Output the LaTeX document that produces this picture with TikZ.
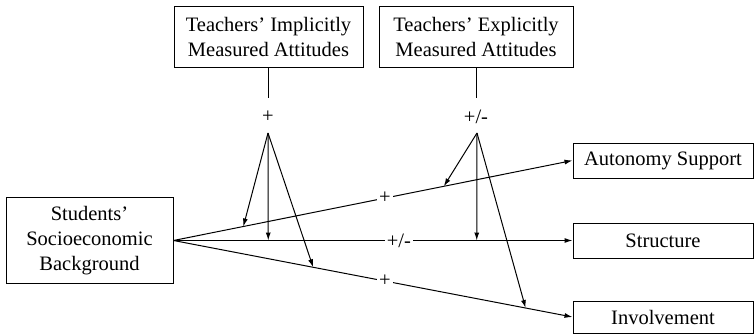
\documentclass[tikz,border=0pt]{standalone}
\usepackage{fontspec}
\setmainfont{Liberation Serif}
\usetikzlibrary{arrows.meta,calc}
\begin{document}
\begin{tikzpicture}[x=1pt,y=-1pt,
  txt/.style={font=\fontsize{20.5}{25}\selectfont},
  box/.style={txt,draw,line width=1pt,inner sep=0pt,align=center},
  lbl/.style={txt,fill=white,inner sep=2pt},
  ln/.style={line width=1pt},
  arr/.style={line width=1pt,-{Latex[length=8pt,width=5pt]}}]
\useasboundingbox (0,0) rectangle (755,335);
% boxes
\node[box,minimum width=189pt,minimum height=61pt] (I) at (268.5,36.5) {Teachers’ Implicitly\\Measured Attitudes};
\node[box,minimum width=194pt,minimum height=61pt] (E) at (476,36.5) {Teachers’ Explicitly\\Measured Attitudes};
\node[box,minimum width=167pt,minimum height=86pt] (S) at (89.5,240.5) {Students’\\Socioeconomic\\Background};
\node[box,minimum width=180pt,minimum height=35pt] (A) at (663,160.5) {Autonomy Support};
\node[box,minimum width=180pt,minimum height=35pt] (T) at (663,240.5) {Structure};
\node[box,minimum width=180pt,minimum height=32pt] (V) at (663,317) {Involvement};
% moderator stems
\coordinate (Ie) at (268,98);
\coordinate (Ee) at (476,98);
\draw[ln] (I.south -| Ie) -- (Ie);
\draw[ln] (E.south -| Ee) -- (Ee);
\node[txt,inner sep=0pt] (pI) at (268,117) {+};
\node[txt,inner sep=0pt] (pE) at (476,117) {+/-};
\coordinate (aI) at (268,133);
\coordinate (aE) at (477,133);
% main paths
\draw[arr] (S.east) -- node[lbl,pos=0.53] (lA) {+} (A.west);
\draw[arr] (S.east) -- node[lbl,pos=0.565] (lT) {+/-} (T.west);
\draw[arr] (S.east) -- node[lbl,pos=0.53] (lV) {+} (V.west);
% targets on paths
\coordinate (iA) at ($(S.east)!0.175!(A.west)$);
\coordinate (iT) at ($(S.east)!0.2375!(T.west)$);
\coordinate (iV) at ($(S.east)!0.35!(V.west)$);
\coordinate (eA) at ($(S.east)!0.6775!(A.west)$);
\coordinate (eT) at ($(S.east)!0.76!(T.west)$);
\coordinate (eV) at ($(S.east)!0.8825!(V.west)$);
\draw[arr] (aI) -- (iA);
\draw[arr] (aI) -- (iT);
\draw[arr] (aI) -- (iV);
\draw[arr] (aE) -- (eA);
\draw[arr] (aE) -- (eT);
\draw[arr] (aE) -- (eV);
\end{tikzpicture}
\end{document}
